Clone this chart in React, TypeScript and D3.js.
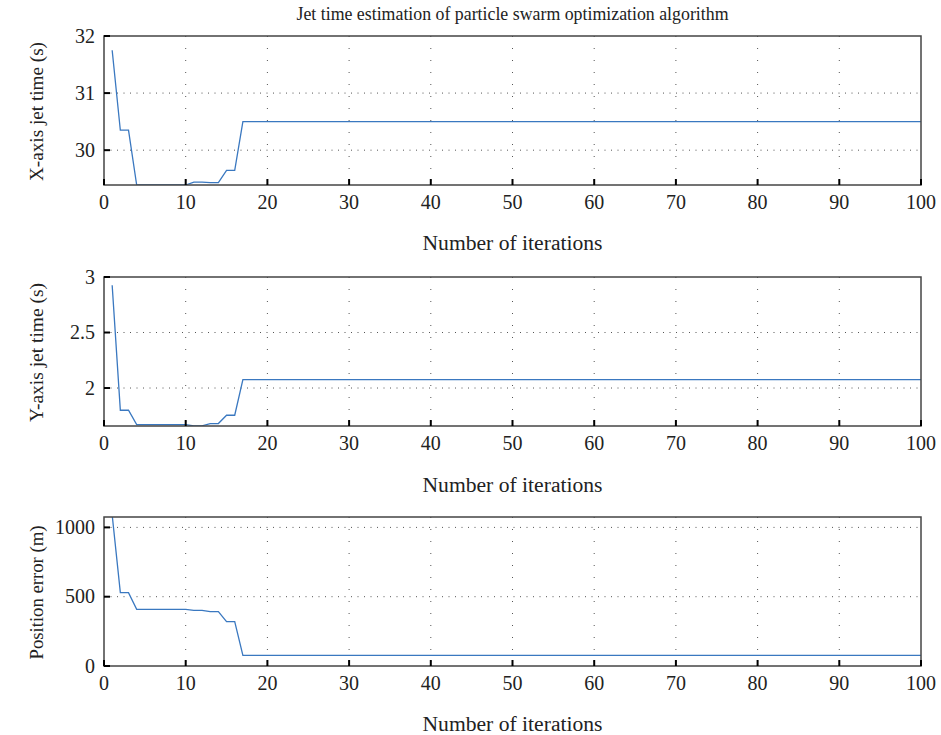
import React from "react";
import * as d3 from "d3";

const iterations: number[] = d3.range(1, 101);

const xJetHead: number[] = [31.75, 30.35, 30.35, 29.39, 29.39, 29.39, 29.39, 29.39, 29.39, 29.39, 29.44, 29.44, 29.43, 29.43, 29.645, 29.645, 30.5];
const xJetTail = 30.5;
const yJetHead: number[] = [2.925, 1.8, 1.8, 1.67, 1.67, 1.67, 1.67, 1.67, 1.67, 1.67, 1.66, 1.66, 1.68, 1.68, 1.755, 1.755, 2.076];
const yJetTail = 2.076;
const posErrHead: number[] = [1090, 529, 529, 409, 409, 409, 409, 409, 409, 409, 402, 402, 392, 392, 320, 320, 77];
const posErrTail = 77;

const xTicks: number[] = [0, 10, 20, 30, 40, 50, 60, 70, 80, 90, 100];
const title = "Jet time estimation of particle swarm optimization algorithm";
const xLabel = "Number of iterations";

function fill(head: number[], tail: number): number[] {
  return iterations.map((_, i) => (i < head.length ? head[i] : tail));
}

const panels = [
  { values: fill(xJetHead, xJetTail), domain: [29.39, 32], ticks: [30, 31, 32], ylabel: "X-axis jet time (s)", ylen: 139, top: 36, bottom: 185, xlabelY: 250 },
  { values: fill(yJetHead, yJetTail), domain: [1.658, 3], ticks: [2, 2.5, 3], ylabel: "Y-axis jet time (s)", ylen: 139, top: 277, bottom: 426, xlabelY: 492 },
  { values: fill(posErrHead, posErrTail), domain: [0, 1075], ticks: [0, 500, 1000], ylabel: "Position error (m)", ylen: 134, top: 517, bottom: 666, xlabelY: 731 },
];

const LEFT = 104;
const RIGHT = 921;
const FONT = "'Liberation Serif', 'DejaVu Serif', serif";

export default function App() {
  const x = d3.scaleLinear().domain([0, 100]).range([LEFT, RIGHT]);
  return (
    <svg width={941} height={735} style={{ position: "absolute", left: 0, top: 0, background: "#fff" }} fontFamily={FONT}>
      <rect x={0} y={0} width={941} height={735} fill="#fff" />
      <text x={(LEFT + RIGHT) / 2} y={20} textAnchor="middle" fontSize={19} fill="#222" textLength={432} lengthAdjust="spacingAndGlyphs">{title}</text>
      {panels.map((p, pi) => {
        const y = d3.scaleLinear().domain(p.domain as [number, number]).range([p.bottom, p.top]);
        const line = d3.line<number>().x((_, i) => x(iterations[i])).y((v) => y(v));
        const clipId = `clip${pi}`;
        return (
          <g key={pi}>
            <defs>
              <clipPath id={clipId}>
                <rect x={LEFT} y={p.top} width={RIGHT - LEFT} height={p.bottom - p.top} />
              </clipPath>
            </defs>
            {xTicks.slice(1, -1).map((t) => (
              <line key={"gx" + t} x1={x(t)} x2={x(t)} y1={p.top} y2={p.bottom} stroke="#555" strokeWidth={1} strokeDasharray="1,11" />
            ))}
            {p.ticks.filter((t) => y(t) > p.top + 2 && y(t) < p.bottom - 2).map((t) => (
              <line key={"gy" + t} x1={LEFT} x2={RIGHT} y1={y(t)} y2={y(t)} stroke="#555" strokeWidth={1} strokeDasharray="1,5.5" />
            ))}
            <path d={line(p.values) || ""} fill="none" stroke="#3a78c0" strokeWidth={1.3} clipPath={`url(#${clipId})`} />
            <rect x={LEFT} y={p.top} width={RIGHT - LEFT} height={p.bottom - p.top} fill="none" stroke="#444" strokeWidth={1.5} />
            {xTicks.map((t) => (
              <g key={"tx" + t}>
                <line x1={x(t)} x2={x(t)} y1={p.bottom} y2={p.bottom - 6} stroke="#000" strokeWidth={2} />
                <text x={x(t)} y={p.bottom + 24} textAnchor="middle" fontSize={20} fill="#222">{t}</text>
              </g>
            ))}
            {p.ticks.map((t) => (
              <g key={"ty" + t}>
                <line x1={LEFT} x2={LEFT + 6} y1={y(t)} y2={y(t)} stroke="#000" strokeWidth={2} />
                <text x={LEFT - 9} y={y(t) + 6.5} textAnchor="end" fontSize={20} fill="#222">{String(t)}</text>
              </g>
            ))}
            <text x={(LEFT + RIGHT) / 2} y={p.xlabelY} textAnchor="middle" fontSize={20} fill="#222" textLength={180} lengthAdjust="spacingAndGlyphs">{xLabel}</text>
            <text transform={`translate(43,${(p.top + p.bottom) / 2 + 1}) rotate(-90)`} textAnchor="middle" fontSize={19} fill="#222" textLength={p.ylen} lengthAdjust="spacingAndGlyphs">{p.ylabel}</text>
          </g>
        );
      })}
    </svg>
  );
}
